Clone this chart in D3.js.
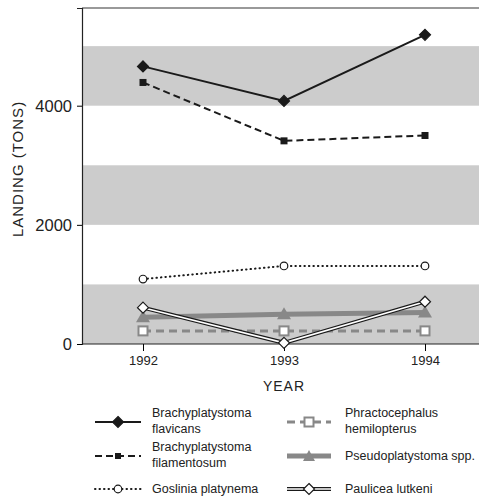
<!DOCTYPE html>
<html>
<head>
<script src="https://d3js.org/d3.v7.min.js"></script>
<style>
  body { margin: 0; background: white; }
  text { font-family: "Liberation Sans", Arial, sans-serif; fill: #222; }
</style>
</head>
<body>
<svg id="chart"></svg>
<script>
// data
var years = [1992, 1993, 1994];
var flavicans = [4660, 4080, 5190];
var filamentosum = [4390, 3410, 3500];
var goslinia = [1090, 1310, 1310];
var phractocephalus = [220, 220, 220];
var pseudoplatystoma = [450, 500, 530];
var paulicea = [610, 20, 710];
var yTicks = [0, 2000, 4000];
var bands = [[0, 1000], [2000, 3000], [4000, 5000]];

(function() {
var width = 479, height = 498;
var svg = d3.select("#chart").attr("width", width).attr("height", height);

var pLeft = 82, pRight = 479, pTop = 8, pBottom = 344;

var x = d3.scalePoint().domain(years).range([143, 425]);
var y = d3.scaleLinear().domain([0, 5640]).range([pBottom, pTop]);

// gray bands
svg.selectAll("rect.band")
  .data(bands)
  .enter().append("rect")
  .attr("class", "band")
  .attr("x", pLeft)
  .attr("width", pRight - pLeft)
  .attr("y", function(d) { return y(d[1]); })
  .attr("height", function(d) { return y(d[0]) - y(d[1]); })
  .attr("fill", "#cccccc");

// frame: top line
svg.append("line")
  .attr("x1", pLeft).attr("x2", pRight)
  .attr("y1", pTop).attr("y2", pTop)
  .attr("stroke", "#777").attr("stroke-width", 1.5);

// axes
var yAxis = d3.axisLeft(y).tickValues(yTicks).tickSize(5).tickPadding(5).tickFormat(d3.format("d"));
var gy = svg.append("g").attr("transform", "translate(" + pLeft + ",0)").call(yAxis);
gy.select(".domain").attr("stroke", "#222").attr("stroke-width", 1.2);
gy.selectAll("text").style("font-size", "16.5px").attr("dy", "0.36em");

var xAxis = d3.axisBottom(x).tickSizeInner(7).tickSizeOuter(0).tickPadding(5);
var gx = svg.append("g").attr("transform", "translate(0," + pBottom + ")").call(xAxis);
gx.select(".domain").attr("d", "M" + pLeft + ",0H" + pRight).attr("stroke", "#222").attr("stroke-width", 1.2);
gx.selectAll("text").style("font-size", "13px");

svg.append("text")
  .attr("x", 284).attr("y", 391)
  .attr("text-anchor", "middle")
  .style("font-size", "14px")
  .style("letter-spacing", "1px")
  .text("YEAR");

svg.append("text")
  .attr("transform", "translate(23,169) rotate(-90)")
  .attr("text-anchor", "middle")
  .style("font-size", "15px")
  .style("letter-spacing", "1px")
  .text("LANDING (TONS)");

var line = d3.line()
  .x(function(d, i) { return x(years[i]); })
  .y(function(d) { return y(d); });

var series = [
  { name: ["Brachyplatystoma", "flavicans"], values: flavicans, stroke: "#1a1a1a", width: 2, dash: null, marker: "diamond", fill: "#1a1a1a", size: 5.5 },
  { name: ["Brachyplatystoma", "filamentosum"], values: filamentosum, stroke: "#1a1a1a", width: 2, dash: "7,4", marker: "square", fill: "#1a1a1a", size: 3.5 },
  { name: ["Goslinia platynema"], values: goslinia, stroke: "#1a1a1a", width: 2, dash: "0.5,4", cap: "round", marker: "circle", fill: "white", size: 3.8 },
  { name: ["Phractocephalus", "hemilopterus"], values: phractocephalus, stroke: "#888", width: 3, dash: "8,5", marker: "square", fill: "white", size: 4.5, mstroke: "#888" },
  { name: ["Pseudoplatystoma spp."], values: pseudoplatystoma, stroke: "#888", width: 5, dash: null, marker: "triangle", fill: "#888", size: 7 },
  { name: ["Paulicea lutkeni"], values: paulicea, stroke: "#1a1a1a", width: 4, dash: null, marker: "diamond", fill: "white", size: 5.5, inner: true }
];

function drawMarker(g, s, cx, cy) {
  var ms = s.mstroke || "#1a1a1a";
  if (s.marker === "diamond") {
    var r = s.size;
    g.append("path")
      .attr("d", "M" + cx + "," + (cy - r) + "L" + (cx + r) + "," + cy + "L" + cx + "," + (cy + r) + "L" + (cx - r) + "," + cy + "Z")
      .attr("fill", s.fill).attr("stroke", ms).attr("stroke-width", 1.2);
  } else if (s.marker === "square") {
    g.append("rect")
      .attr("x", cx - s.size).attr("y", cy - s.size)
      .attr("width", 2 * s.size).attr("height", 2 * s.size)
      .attr("fill", s.fill).attr("stroke", ms).attr("stroke-width", s.fill === "white" ? 2 : 0);
  } else if (s.marker === "circle") {
    g.append("circle").attr("cx", cx).attr("cy", cy).attr("r", s.size)
      .attr("fill", "white").attr("stroke", ms).attr("stroke-width", 1.2);
  } else if (s.marker === "triangle") {
    var t = s.size;
    g.append("path")
      .attr("d", "M" + cx + "," + (cy - t) + "L" + (cx + t) + "," + (cy + 5) + "L" + (cx - t) + "," + (cy + 5) + "Z")
      .attr("fill", s.fill);
  }
}

function drawLine(g, s, d) {
  g.append("path").attr("d", d)
    .attr("fill", "none")
    .attr("stroke", s.stroke)
    .attr("stroke-width", s.width)
    .attr("stroke-dasharray", s.dash)
    .attr("stroke-linecap", s.cap || "butt");
  if (s.inner) {
    g.append("path").attr("d", d)
      .attr("fill", "none").attr("stroke", "white").attr("stroke-width", 1.6);
  }
}

// draw series in back-to-front order
var order = [4, 3, 5, 2, 1, 0];
order.forEach(function(k) {
  var s = series[k];
  var g = svg.append("g");
  drawLine(g, s, line(s.values));
  s.values.forEach(function(v, i) { drawMarker(g, s, x(years[i]), y(v)); });
});

// legend
var legendPos = [
  [95, 422], [95, 456], [95, 489],
  [287, 422], [287, 456], [287, 489]
];
series.forEach(function(s, k) {
  var p = legendPos[k];
  var g = svg.append("g");
  var x0 = p[0], x1 = p[0] + (k < 3 ? 46 : 44), cy = p[1];
  drawLine(g, s, "M" + x0 + "," + cy + "L" + x1 + "," + cy);
  var ls = Object.assign({}, s, { size: s.marker === "triangle" ? 6 : (s.marker === "square" && s.fill !== "white" ? 3 : s.size) });
  drawMarker(g, ls, (x0 + x1) / 2, cy);
  var tx = k < 3 ? 152 : 345;
  var t = g.append("text").attr("x", tx).style("font-size", "12.5px");
  if (s.name.length === 2) {
    t.append("tspan").attr("x", tx).attr("y", cy - 5).text(s.name[0]);
    t.append("tspan").attr("x", tx).attr("y", cy + 11).text(s.name[1]);
  } else {
    t.attr("y", cy + 4).text(s.name[0]);
  }
});
})();
</script>
</body>
</html>
